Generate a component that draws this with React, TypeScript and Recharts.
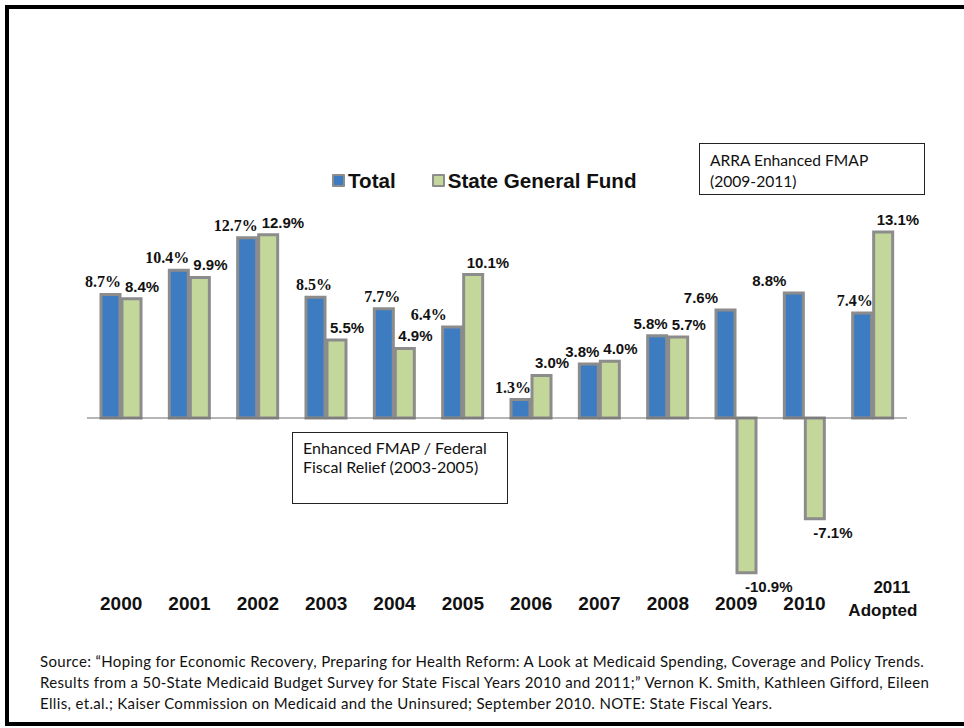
import { BarChart, Bar, XAxis, YAxis, ReferenceLine, LabelList, Legend } from 'recharts';

const years = ['2000', '2001', '2002', '2003', '2004', '2005', '2006', '2007', '2008', '2009', '2010', '2011 Adopted'];
const totalGrowth = [8.7, 10.4, 12.7, 8.5, 7.7, 6.4, 1.3, 3.8, 5.8, 7.6, 8.8, 7.4];
const stateFundGrowth = [8.4, 9.9, 12.9, 5.5, 4.9, 10.1, 3.0, 4.0, 5.7, -10.9, -7.1, 13.1];
// the older Total labels use a serif face in the original slide
const serifTotalYears = ['2000', '2001', '2002', '2003', '2004', '2005', '2006', '2011 Adopted'];

const sourceLines = [
  'Source: \u201cHoping for Economic Recovery, Preparing for Health Reform: A Look at Medicaid Spending, Coverage and Policy Trends.',
  'Results from a 50-State Medicaid Budget Survey for State Fiscal Years 2010 and 2011;\u201d Vernon K. Smith, Kathleen Gifford, Eileen',
  'Ellis, et.al.; Kaiser Commission on Medicaid and the Uninsured; September 2010. NOTE: State Fiscal Years.',
];

const data = years.map((year, i) => ({
  year,
  total: totalGrowth[i],
  stateFund: stateFundGrowth[i],
}));

const BLUE = '#3E7CC1';
const GREEN = '#C4D79B';
const EDGE = '#8C8C8C';
const SANS = '"Liberation Sans", Arial, sans-serif';
const SERIF = '"Liberation Serif", "Times New Roman", serif';
const BODY = 'Lato, "Open Sans", sans-serif';

function TotalLabel(props: any) {
  const { x, y, width, height, value, index } = props;
  const top = Math.min(y, y + height);
  const other = stateFundGrowth[index];
  let shift = 1;
  if (other < 0) shift = -17;
  else if (value > other + 2) shift = 7;
  else if (other > value + 2 && other < 12) shift = -15;
  const serif = serifTotalYears.includes(years[index]);
  return (
    <text
      x={x + width + shift}
      y={top - 7}
      textAnchor="end"
      fontFamily={serif ? SERIF : SANS}
      fontSize={serif ? 16 : 15}
      fontWeight={700}
      fill="#111"
    >
      {value.toFixed(1)}%
    </text>
  );
}

function FundLabel(props: any) {
  const { x, y, width, height, value } = props;
  if (value < 0) {
    const bottom = Math.max(y, y + height);
    return (
      <text x={x + 8} y={bottom + 19} textAnchor="start" fontFamily={SANS} fontSize={15} fontWeight={700} fill="#111">
        {value.toFixed(1)}%
      </text>
    );
  }
  const top = Math.min(y, y + height);
  return (
    <text x={x + 3} y={top - 7} textAnchor="start" fontFamily={SANS} fontSize={15} fontWeight={700} fill="#111">
      {value.toFixed(1)}%
    </text>
  );
}

function YearTick(props: any) {
  const { x, y, payload } = props;
  const label: string = payload.value;
  if (label.includes(' ')) {
    const [a, b] = label.split(' ');
    return (
      <text x={x} y={y} textAnchor="middle" fontFamily={SANS} fontSize={17} fontWeight={700} fill="#111">
        <tspan x={x + 19} dy={-18}>{a}</tspan>
        <tspan x={x + 10} dy={23}>{b}</tspan>
      </text>
    );
  }
  return (
    <text x={x} y={y - 1} textAnchor="middle" fontFamily={SANS} fontSize={19} fontWeight={700} fill="#111">
      {label}
    </text>
  );
}

function LegendBox() {
  const item = (color: string, text: string, gap: number) => (
    <span style={{ display: 'inline-flex', alignItems: 'center', marginRight: gap }}>
      <span
        style={{
          display: 'inline-block',
          width: 9,
          height: 9,
          background: color,
          border: `2px solid ${EDGE}`,
          borderRadius: 1,
          marginRight: 3,
        }}
      />
      <span>{text}</span>
    </span>
  );
  return (
    <div style={{ fontFamily: SANS, fontSize: 20.6, fontWeight: 700, color: '#111', whiteSpace: 'nowrap' }}>
      {item(BLUE, 'Total', 36)}
      {item(GREEN, 'State General Fund', 0)}
    </div>
  );
}

const boxStyle: React.CSSProperties = {
  position: 'absolute',
  boxSizing: 'border-box',
  border: '1px solid #222',
  background: '#fff',
  fontFamily: BODY,
  color: '#111',
};

export default function App() {
  return (
    <div
      style={{
        position: 'absolute',
        left: 0,
        top: 0,
        width: 964,
        height: 728,
        background: '#fff',
        overflow: 'hidden',
      }}
    >
      {/* slide frame, right edge runs off the picture */}
      <div
        style={{
          position: 'absolute',
          left: 5,
          top: 5,
          width: 1200,
          height: 721,
          borderTop: '4px solid #000',
          borderLeft: '4px solid #000',
          borderBottom: '4px solid #000',
          boxSizing: 'border-box',
        }}
      />

      <div style={{ position: 'absolute', left: 0, top: 0 }}>
        <BarChart
          width={964}
          height={728}
          data={data}
          margin={{ top: 205, right: 57, bottom: 95.4, left: 87 }}
          barSize={19}
          barGap={2}
        >
          <XAxis
            dataKey="year"
            axisLine={false}
            tickLine={false}
            height={30}
            interval={0}
            tick={<YearTick />}
          />
          <YAxis hide domain={[-13, 15]} />
          <Legend
            layout="horizontal"
            verticalAlign="middle"
            align="center"
            wrapperStyle={{ top: 168, left: 332, width: 340 }}
            content={() => <LegendBox />}
          />
          <ReferenceLine y={0} stroke="#6f6f6f" strokeWidth={1.2} />
          <Bar dataKey="total" name="Total" fill={BLUE} stroke={EDGE} strokeWidth={3} isAnimationActive={false}>
            <LabelList dataKey="total" content={<TotalLabel />} />
          </Bar>
          <Bar dataKey="stateFund" name="State General Fund" fill={GREEN} stroke={EDGE} strokeWidth={3} isAnimationActive={false}>
            <LabelList dataKey="stateFund" content={<FundLabel />} />
          </Bar>
        </BarChart>
      </div>

      <div
        style={{
          ...boxStyle,
          left: 699,
          top: 143,
          width: 226,
          height: 52,
          padding: '6px 0 0 10px',
          fontSize: 15.6,
          lineHeight: '21px',
        }}
      >
        ARRA Enhanced FMAP
        <br />
        (2009-2011)
      </div>

      <div
        style={{
          ...boxStyle,
          left: 292,
          top: 432,
          width: 216,
          height: 72,
          padding: '5px 0 0 10px',
          fontSize: 16,
          lineHeight: '19px',
        }}
      >
        Enhanced FMAP / Federal
        <br />
        Fiscal Relief (2003-2005)
      </div>

      <div
        style={{
          position: 'absolute',
          left: 40,
          top: 651,
          fontFamily: BODY,
          fontSize: 15,
          letterSpacing: 0.35,
          lineHeight: '21px',
          color: '#111',
          whiteSpace: 'nowrap',
        }}
      >
        {sourceLines.map((line) => (
          <div key={line}>{line}</div>
        ))}
      </div>
    </div>
  );
}
